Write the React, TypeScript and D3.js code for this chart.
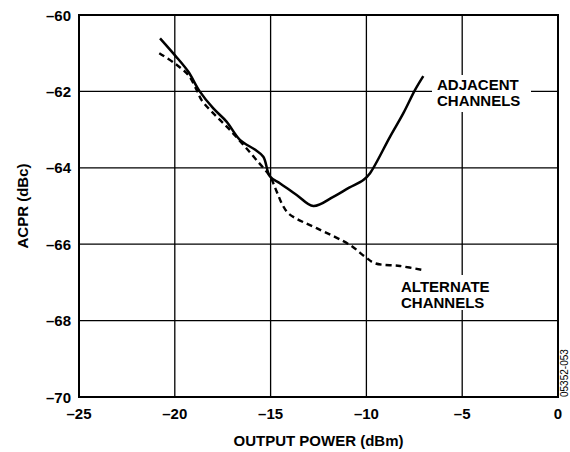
import React from "react";
import * as d3 from "d3";

const adjX = [-20.77, -20.0, -19.3, -18.7, -18.0, -17.3, -16.6, -15.8, -15.38, -15.03, -14.5, -13.64, -12.77, -11.73, -10.9, -10.16, -9.81, -8.77, -8.07, -7.46, -7.03];
const adjY = [-60.61, -61.05, -61.48, -62.0, -62.44, -62.79, -63.27, -63.53, -63.71, -64.23, -64.41, -64.71, -65.0, -64.76, -64.52, -64.32, -64.14, -63.19, -62.57, -61.96, -61.6];

const altX = [-20.81, -20.0, -19.3, -18.86, -18.6, -17.82, -17.12, -16.42, -15.73, -15.03, -14.7, -14.4, -14.1, -13.7, -12.6, -10.86, -10.07, -9.55, -8.25, -7.03];
const altY = [-61.0, -61.27, -61.57, -61.96, -62.23, -62.66, -63.01, -63.4, -63.8, -64.23, -64.6, -64.95, -65.18, -65.32, -65.58, -66.02, -66.33, -66.5, -66.57, -66.68];

const xTicks = [-25, -20, -15, -10, -5, 0];
const yTicks = [-60, -62, -64, -66, -68, -70];

const W = 570, H = 452;
const L = 79, R = 558, T = 15, B = 397;
const FONT = "'Liberation Sans', Arial, Helvetica, sans-serif";

const fmt = (v: number) => (v < 0 ? "\u2013" + Math.abs(v) : String(v));

export default function App() {
  const x = d3.scaleLinear().domain([-25, 0]).range([L, R]);
  const y = d3.scaleLinear().domain([-70, -60]).range([B, T]);
  const line = d3
    .line<[number, number]>()
    .x((d) => x(d[0]))
    .y((d) => y(d[1]))
    .curve(d3.curveCatmullRom.alpha(0.5));
  const adj = adjX.map((v, i) => [v, adjY[i]] as [number, number]);
  const alt = altX.map((v, i) => [v, altY[i]] as [number, number]);

  return (
    <div style={{ position: "absolute", left: 0, top: 0 }}>
      <svg width={W} height={H} style={{ display: "block", background: "#fff" }} fontFamily={FONT}>
        {xTicks.slice(1, -1).map((t) => (
          <line key={"gx" + t} x1={x(t)} x2={x(t)} y1={T} y2={B} stroke="#000" strokeWidth={1.3} />
        ))}
        {yTicks.slice(1, -1).map((t) => (
          <line key={"gy" + t} x1={L} x2={R} y1={y(t)} y2={y(t)} stroke="#000" strokeWidth={1.3} />
        ))}
        <path d={line(alt) || ""} fill="none" stroke="#000" strokeWidth={2.4} strokeDasharray="6,4" />
        <path d={line(adj) || ""} fill="none" stroke="#000" strokeWidth={2.5} />
        <rect x={L} y={T} width={R - L} height={B - T} fill="none" stroke="#000" strokeWidth={2} />

        <rect x={432} y={75} width={99} height={37} fill="#fff" />
        <text x={437} y={90} fontSize={15} fontWeight="bold">ADJACENT</text>
        <text x={437} y={106} fontSize={15} fontWeight="bold">CHANNELS</text>

        <rect x={397} y={275} width={100} height={35} fill="#fff" />
        <text x={401} y={292} fontSize={15} fontWeight="bold">ALTERNATE</text>
        <text x={401} y={308} fontSize={15} fontWeight="bold">CHANNELS</text>

        {yTicks.map((t) => (
          <text key={"yl" + t} x={71} y={y(t) + 5.5} textAnchor="end" fontSize={15} fontWeight="bold">
            {fmt(t)}
          </text>
        ))}
        {xTicks.map((t) => (
          <text key={"xl" + t} x={x(t)} y={419} textAnchor="middle" fontSize={15} fontWeight="bold">
            {fmt(t)}
          </text>
        ))}
        <text x={(L + R) / 2} y={446} textAnchor="middle" fontSize={15} fontWeight="bold">
          OUTPUT POWER (dBm)
        </text>
        <text
          transform={`translate(28, ${(T + B) / 2}) rotate(-90)`}
          textAnchor="middle"
          fontSize={15}
          fontWeight="bold"
        >
          ACPR (dBc)
        </text>
        <text transform={`translate(568, 397) rotate(-90)`} fontSize={10}>
          05352-053
        </text>
      </svg>
    </div>
  );
}
